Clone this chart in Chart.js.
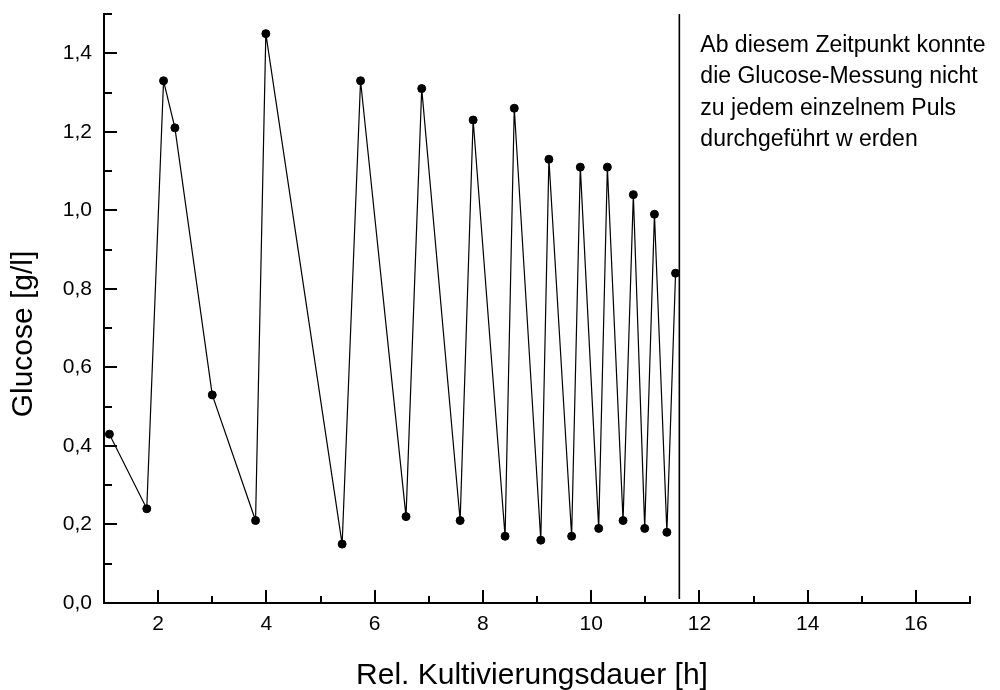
<!DOCTYPE html>
<html>
<head>
<meta charset="utf-8">
<script src="https://cdn.jsdelivr.net/npm/chart.js@4.4.1/dist/chart.umd.min.js"></script>
<style>
  body { margin: 0; background: #fff; }
  #chart { display: block; }
</style>
</head>
<body>
<canvas id="chart" width="1000" height="690"></canvas>
<script>
const time = [1.10, 1.79, 2.10, 2.31, 3.00, 3.80, 3.99, 5.40, 5.74, 6.58, 6.87, 7.58, 7.82, 8.41,
              8.58, 9.07, 9.22, 9.64, 9.80, 10.14, 10.30, 10.59, 10.78, 10.99, 11.17, 11.40, 11.56];
const glucose = [0.43, 0.24, 1.33, 1.21, 0.53, 0.21, 1.45, 0.15, 1.33, 0.22, 1.31, 0.21, 1.23, 0.17,
                 1.26, 0.16, 1.13, 0.17, 1.11, 0.19, 1.11, 0.21, 1.04, 0.19, 0.99, 0.18, 0.84];

// Zeitpunkt ab dem nicht mehr jeder Puls gemessen wurde
const markerTime = 11.63;

const xTicks = [2, 4, 6, 8, 10, 12, 14, 16];
const xMinor = [1, 3, 5, 7, 9, 11, 13, 15, 17];
const yTicks = [0, 0.2, 0.4, 0.6, 0.8, 1.0, 1.2, 1.4];
const yMinor = [0.1, 0.3, 0.5, 0.7, 0.9, 1.1, 1.3, 1.5];

const xTitle = 'Rel. Kultivierungsdauer [h]';
const yTitle = 'Glucose [g/l]';
const noteLines = ['Ab diesem Zeitpunkt konnte', 'die Glucose-Messung nicht', 'zu jedem einzelnem Puls', 'durchgeführt w erden'];

const FONT = '"Liberation Sans", Arial, sans-serif';

const fmt = (v) => v.toFixed(1).replace('.', ',');

// Ticks nach innen, Achsentitel und Notiz
const decorations = {
    id: 'decorations',
    afterDraw: (chart) => {
        const ctx = chart.ctx;
        const xs = chart.scales.x;
        const ys = chart.scales.y;
        const area = chart.chartArea;

        ctx.save();
        ctx.strokeStyle = '#000';
        ctx.lineWidth = 2;
        ctx.beginPath();
        xTicks.forEach((v) => {
            const px = Math.round(xs.getPixelForValue(v));
            ctx.moveTo(px, area.bottom);
            ctx.lineTo(px, area.bottom - 13);
        });
        xMinor.forEach((v) => {
            const px = Math.round(xs.getPixelForValue(v));
            ctx.moveTo(px, area.bottom);
            ctx.lineTo(px, area.bottom - 7);
        });
        yTicks.forEach((v) => {
            const py = Math.round(ys.getPixelForValue(v));
            ctx.moveTo(area.left, py);
            ctx.lineTo(area.left + 13, py);
        });
        yMinor.forEach((v) => {
            const py = Math.round(ys.getPixelForValue(v));
            ctx.moveTo(area.left, py);
            ctx.lineTo(area.left + 8, py);
        });
        ctx.stroke();

        ctx.fillStyle = '#000';
        ctx.font = '30px ' + FONT;
        ctx.textAlign = 'center';
        ctx.textBaseline = 'alphabetic';
        ctx.fillText(xTitle, (area.left + area.right) / 2 - 5, 684);

        ctx.save();
        ctx.translate(32, 334);
        ctx.rotate(-Math.PI / 2);
        ctx.fillText(yTitle, 0, 0);
        ctx.restore();

        ctx.font = '23px ' + FONT;
        ctx.textAlign = 'left';
        const nx = xs.getPixelForValue(markerTime) + 21;
        noteLines.forEach((line, i) => {
            ctx.fillText(line, nx, area.top + 38 + i * 31.3);
        });
        ctx.restore();
    }
};

new Chart(document.getElementById('chart'), {
    type: 'line',
    data: {
        datasets: [{
            data: time.map((t, i) => ({ x: t, y: glucose[i] })),
            borderColor: '#000',
            borderWidth: 1.2,
            pointRadius: 4,
            pointBackgroundColor: '#000',
            pointBorderColor: '#000',
            pointBorderWidth: 1,
            tension: 0
        }, {
            data: [{ x: markerTime, y: 0.01 }, { x: markerTime, y: 1.5 }],
            borderColor: '#000',
            borderWidth: 1.6,
            pointRadius: 0
        }]
    },
    options: {
        responsive: false,
        animation: false,
        layout: { padding: { top: 14, right: 30, left: 0, bottom: 0 } },
        plugins: {
            legend: { display: false },
            tooltip: { enabled: false }
        },
        scales: {
            x: {
                type: 'linear',
                min: 1,
                max: 17,
                afterBuildTicks: (scale) => { scale.ticks = xTicks.map((v) => ({ value: v })); },
                afterFit: (scale) => {
                    scale.height = 87;
                    scale.paddingLeft = 0;
                    scale.paddingRight = 0;
                },
                grid: { display: false, drawTicks: false },
                border: { display: true, color: '#000', width: 2 },
                ticks: {
                    padding: 9,
                    color: '#000',
                    maxRotation: 0,
                    font: { family: FONT, size: 21 },
                    callback: (v) => String(v)
                }
            },
            y: {
                type: 'linear',
                min: 0,
                max: 1.5,
                afterBuildTicks: (scale) => { scale.ticks = yTicks.map((v) => ({ value: v })); },
                afterFit: (scale) => {
                    scale.width = 104;
                    scale.paddingTop = 0;
                    scale.paddingBottom = 0;
                },
                grid: { display: false, drawTicks: false },
                border: { display: true, color: '#000', width: 2 },
                ticks: {
                    padding: 12,
                    color: '#000',
                    font: { family: FONT, size: 21 },
                    callback: (v) => fmt(v)
                }
            }
        }
    },
    plugins: [decorations]
});
</script>
</body>
</html>
